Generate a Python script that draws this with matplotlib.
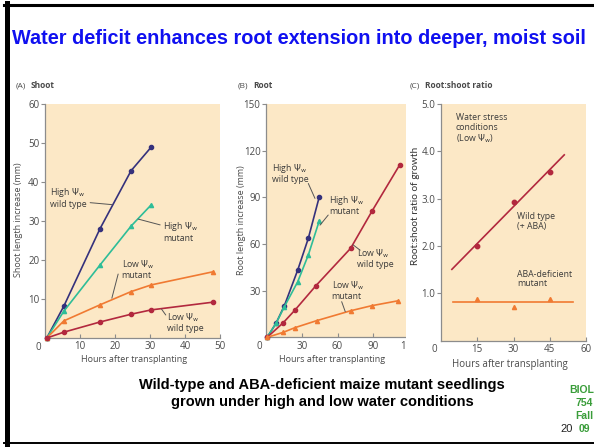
import numpy as np
import matplotlib.pyplot as plt
from matplotlib.patches import Rectangle
from matplotlib.lines import Line2D

W, H = 594, 447

# (A) shoot length increase (mm) vs hours after transplanting
shoot_hours_high = [0.5, 5.4, 15.7, 24.6, 30.3]
shoot_high_wt = [0, 8.2, 28.0, 42.9, 48.9]
shoot_high_mut = [0, 6.9, 18.7, 28.7, 34.1]
shoot_hours_low = [0.5, 5.4, 15.7, 24.6, 30.3, 48.1]
shoot_low_mut = [0, 4.4, 8.5, 11.9, 13.6, 17.0]
shoot_low_wt = [0, 1.5, 4.1, 6.1, 7.2, 9.2]

# (B) root length increase (mm)
root_hours_high = [1, 8.4, 15.3, 26.6, 35.5, 44.7]
root_high_wt = [0, 9.0, 20.1, 43.2, 63.6, 90.3]
root_high_mut = [0, 9.0, 19.5, 35.7, 52.9, 74.9]
root_hours_low_wt = [1, 14.5, 24.3, 41.9, 71.0, 89.1, 112.3]
root_low_wt = [0, 9.4, 17.5, 33.2, 57.2, 81.3, 111.0]
root_hours_low_mut = [1, 14.5, 24.3, 42.5, 71.2, 88.6, 111.0]
root_low_mut = [0, 3.2, 6.2, 10.7, 17.1, 20.3, 23.5]

# (C) root:shoot ratio under low water potential
ratio_hours = [15, 30, 45]
ratio_wt = [2.0, 2.94, 3.56]
ratio_mut = [0.88, 0.72, 0.88]
fit_span_wt = [4.5, 51]
fit_span_mut = [5, 54.5]

NAVY = '#35317c'
TEAL = '#2ebd98'
ORANGE = '#f07a32'
CRIMSON = '#b2283e'
BG = '#fce8c6'
TXT = '#4a4a4a'
SPINE = '#8c8c8c'
FONT = 'Open Sans'

plt.rcParams['mathtext.fontset'] = 'dejavusans'

fig = plt.figure(figsize=(W / 100, H / 100), dpi=100)


def fx(x):
    return x / W


def fy(y):
    return 1 - y / H


def px_axes(left, top, right, bottom, z=0):
    return fig.add_axes([left / W, 1 - bottom / H, (right - left) / W, (bottom - top) / H], zorder=z)


def style(ax, xt, yt, ylabels):
    ax.set_facecolor(BG)
    for s in ['top', 'right']:
        ax.spines[s].set_visible(False)
    for s in ['left', 'bottom']:
        ax.spines[s].set_color(SPINE)
        ax.spines[s].set_linewidth(0.9)
    ax.set_xticks(xt)
    ax.set_yticks(yt)
    ax.set_yticklabels(ylabels)
    ax.tick_params(axis='y', direction='out', length=3, width=0.8, color=SPINE, pad=1,
                   labelsize=7, labelcolor=TXT)
    ax.tick_params(axis='x', direction='in', length=3, width=0.8, color=SPINE, pad=2.5,
                   labelsize=7, labelcolor=TXT)
    for lab in ax.get_xticklabels() + ax.get_yticklabels():
        lab.set_family(FONT)
    # single "0" at the corner, as in the original figure
    ax.annotate('0', xy=(0, 0), xytext=(-5, -6.5), textcoords='offset points',
                ha='center', va='center', fontsize=7, color=TXT, family=FONT)


def series(ax, x, y, color, marker):
    ax.plot(x, y, color=color, lw=1.2, marker=marker, ms=3, mfc=color, mec=color,
            clip_on=False, zorder=3)


def label(ax, x, y, s, start=None, end=None):
    ax.text(x, y, s, fontsize=6.3, color='#3a3a3a', ha='left', va='center',
            family=FONT, linespacing=1.05)
    if start is not None:
        ax.annotate('', xy=end, xytext=start,
                    arrowprops=dict(arrowstyle='-', color='#555555', lw=0.7,
                                    shrinkA=0, shrinkB=0))


PSI = r'$\Psi_\mathrm{w}$'

# ---- panel A
axA = px_axes(45, 104, 220, 338)
axA.set_xlim(0, 50)
axA.set_ylim(0, 60)
style(axA, [10, 20, 30, 40, 50], [10, 20, 30, 40, 50, 60], ['10', '20', '30', '40', '50', '60'])
series(axA, shoot_hours_high, shoot_high_wt, NAVY, 'o')
series(axA, shoot_hours_high, shoot_high_mut, TEAL, '^')
series(axA, shoot_hours_low, shoot_low_mut, ORANGE, '^')
series(axA, shoot_hours_low, shoot_low_wt, CRIMSON, 'o')
label(axA, 1.4, 36, 'High ' + PSI + '\nwild type', (12.9, 34.7), (19.1, 34.2))
label(axA, 33.7, 27.3, 'High ' + PSI + '\nmutant', (32.9, 29.0), (26.6, 30.5))
label(axA, 21.9, 17.7, 'Low ' + PSI + '\nmutant', (20.9, 16.4), (19.1, 10.2))
label(axA, 34.8, 4.1, 'Low ' + PSI + '\nwild type', (34.5, 5.9), (33.3, 7.4))

# ---- panel B
axB = px_axes(266, 104, 409, 337.3)
axB.set_xlim(0, 120)
axB.set_ylim(0, 150)
style(axB, [30, 60, 90, 120], [30, 60, 90, 120, 150], ['30', '60', '90', '120', '150'])
series(axB, root_hours_high, root_high_wt, NAVY, 'o')
series(axB, root_hours_high, root_high_mut, TEAL, '^')
series(axB, root_hours_low_wt, root_low_wt, CRIMSON, 'o')
series(axB, root_hours_low_mut, root_low_mut, ORANGE, '^')
label(axB, 4.8, 105.7, 'High ' + PSI + '\nwild type', (35.5, 98.9), (41.1, 89.3))
label(axB, 53, 85, 'High ' + PSI + '\nmutant', (52.2, 78.6), (45.3, 72.1))
label(axB, 76, 50.7, 'Low ' + PSI + '\nwild type', (79, 56), (73, 59.5))
label(axB, 55, 30.2, 'Low ' + PSI + '\nmutant', (63.5, 22.9), (66.5, 16.5))

# white cover where panel C's picture sits over panel B
fig.patches.append(Rectangle((fx(406), fy(372)), fx(594 - 406), (372 - 95) / H,
                             transform=fig.transFigure, facecolor='white',
                             edgecolor='none', zorder=0.5))

# ---- panel C
axC = px_axes(441, 104, 586, 340.7, z=1)
axC.set_xlim(0, 60)
axC.set_ylim(0, 5)
style(axC, [15, 30, 45, 60], [1, 2, 3, 4, 5], ['1.0', '2.0', '3.0', '4.0', '5.0'])
slope, icpt = np.polyfit(ratio_hours, ratio_wt, 1)
axC.plot(fit_span_wt, slope * np.array(fit_span_wt) + icpt, color=CRIMSON, lw=1.2)
axC.plot(ratio_hours, ratio_wt, 'o', color=CRIMSON, ms=3.2)
axC.plot(fit_span_mut, [np.mean(ratio_mut)] * 2, color=ORANGE, lw=1.2)
axC.plot(ratio_hours, ratio_mut, '^', color=ORANGE, ms=3)
label(axC, 6, 4.47, 'Water stress\nconditions\n(Low ' + PSI + ')')
label(axC, 31.5, 2.52, 'Wild type\n(+ ABA)')
label(axC, 31.5, 1.31, 'ABA-deficient\nmutant')

# axis titles
fig.text(fx(19), fy(220), 'Shoot length increase (mm)', rotation=90, ha='center', va='center',
         fontsize=6.5, color=TXT, family=FONT)
fig.text(fx(242), fy(220), 'Root length increase (mm)', rotation=90, ha='center', va='center',
         fontsize=6.5, color=TXT, family=FONT)
fig.text(fx(415), fy(206), 'Root:shoot ratio of growth', rotation=90, ha='center', va='center',
         fontsize=7.3, color='#333333', family='Lato', zorder=5)
fig.text(fx(134), fy(359), 'Hours after transplanting', ha='center', va='center',
         fontsize=6.5, color=TXT, family=FONT)
fig.text(fx(332), fy(359), 'Hours after transplanting', ha='center', va='center',
         fontsize=6.5, color=TXT, family=FONT)
fig.text(fx(510), fy(364), 'Hours after transplanting', ha='center', va='center',
         fontsize=7, color=TXT, family=FONT, zorder=5)

# panel captions
for x, tag, name in [(16, '(A)', 'Shoot'), (238, '(B)', 'Root'), (410, '(C)', 'Root:shoot ratio')]:
    fig.text(fx(x), fy(86), tag, ha='left', va='center',
             fontsize=6, color=TXT, family=FONT, zorder=5)
    fig.text(fx(x + 15), fy(86), name, ha='left', va='center', fontsize=6,
             color=TXT, family=FONT, weight='bold', zorder=5)

# slide text
fig.text(fx(12), fy(38), 'Water deficit enhances root extension into deeper, moist soil',
         ha='left', va='center', fontsize=14.3, color='#1010f0', weight='bold',
         family='Liberation Sans')
fig.text(fx(322), fy(385), 'Wild-type and ABA-deficient maize mutant seedlings',
         ha='center', va='center', fontsize=10.5, weight='bold', family='Liberation Sans')
fig.text(fx(322), fy(402), 'grown under high and low water conditions',
         ha='center', va='center', fontsize=10.5, weight='bold', family='Liberation Sans')
for x, y, s in [(582, 390, 'BIOL'), (584, 403, '754'), (584, 416, 'Fall'), (584, 429, '09')]:
    fig.text(fx(x), fy(y), s, ha='center', va='center', fontsize=7.5, weight='bold',
             color='#3a9d3a', family='Liberation Sans')
fig.text(fx(567), fy(429), '20', ha='center', va='center', fontsize=8, color='#222222',
         family='Liberation Sans')

# slide border
fig.lines.append(Line2D([fx(6.5), fx(6.5)], [fy(3), fy(445)], transform=fig.transFigure,
                        color='black', lw=3.6))
fig.lines.append(Line2D([fx(4), fx(594)], [fy(4.5), fy(4.5)], transform=fig.transFigure,
                        color='black', lw=2.2))
fig.lines.append(Line2D([fx(4), fx(594)], [fy(443), fy(443)], transform=fig.transFigure,
                        color='black', lw=1.4))

fig.savefig('out.png', dpi=100)
